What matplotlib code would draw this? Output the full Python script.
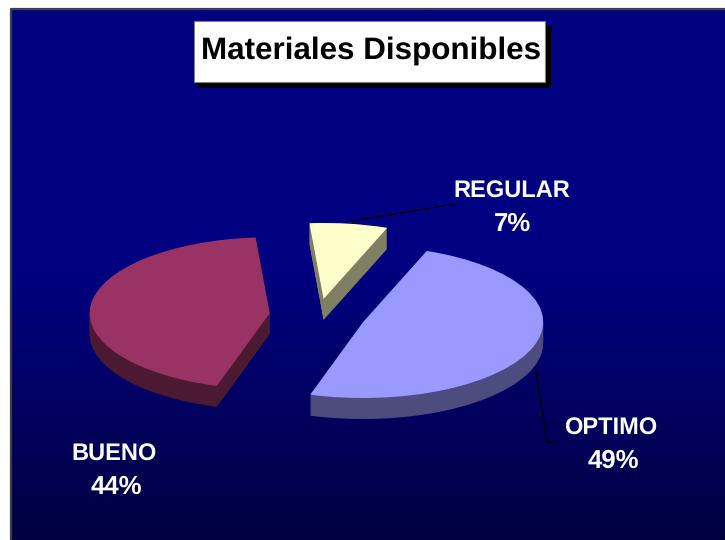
import numpy as np
import matplotlib
matplotlib.use("Agg")
import matplotlib.pyplot as plt
from matplotlib.patches import Rectangle
from matplotlib.colors import LinearSegmentedColormap

title = "Materiales Disponibles"
categories = ["REGULAR", "OPTIMO", "BUENO"]
values = [7, 49, 44]
top_colors = ["#FFFFCC", "#9999FF", "#993366"]
side_colors = ["#7F7F66", "#4C4C7F", "#4C1933"]
explode = [0.22, 0.265, 0.27]
name_pos = [(512, 191.5), (611, 428.5), (114, 455)]
value_pos = [(513, 224), (613, 461), (116, 487)]

W, H = 725, 540
# pie centre and radii in pixels, the tilt comes from the axis scaling
cx, cy, rx, ry = 318, 315.5, 180, 76
depth = 21

plt.rcParams["font.family"] = ["Liberation Sans", "DejaVu Sans"]
plt.rcParams["text.hinting"] = "no_hinting"
fig = plt.figure(figsize=(W / 100, H / 100), dpi=100, facecolor="white")

# background
ax_bg = fig.add_axes([0, 0, 1, 1], zorder=0)
ax_bg.axis("off")
cmap = LinearSegmentedColormap.from_list("bg", ["#000080", "#000080", "#000040"])
grad = np.linspace(0, 1, 256).reshape(-1, 1)
ax_bg.imshow(grad, cmap=cmap, extent=(11, W, H, 9), aspect="auto", zorder=1)
ax_bg.set_xlim(0, W)
ax_bg.set_ylim(H, 0)
ax_bg.plot([11, 11, W], [H, 9, 9], color="#404040", lw=1.6, zorder=2)

# pie, stacked from the bottom up to get the side walls
ax = fig.add_axes([0, 0, 1, 1], zorder=1)
ax.patch.set_alpha(0)
for d in range(depth, 0, -1):
    ax.pie(values, colors=side_colors, explode=explode, startangle=94.5,
           counterclock=False, center=(0, -d / ry),
           wedgeprops={"linewidth": 0.6, "edgecolor": "none"})
ax.pie(values, colors=top_colors, explode=explode, startangle=94.5,
       counterclock=False, center=(0, 0), wedgeprops={"linewidth": 0})
ax.set_aspect("auto")
ax.set_xlim(-cx / rx, (W - cx) / rx)
ax.set_ylim((cy - H) / ry, cy / ry)
ax.axis("off")

# title and labels
ax_top = fig.add_axes([0, 0, 1, 1], zorder=2)
ax_top.patch.set_alpha(0)
ax_top.set_xlim(0, W)
ax_top.set_ylim(H, 0)
ax_top.axis("off")
ax_top.add_patch(Rectangle((198, 26), 353, 62, facecolor="black", edgecolor="none"))
ax_top.add_patch(Rectangle((194.5, 20.5), 351, 61, facecolor="white",
                           edgecolor="#808080", lw=0.8))
ax_top.text(371.5, 51, title, fontsize=22.6, fontweight="bold", color="black",
            ha="center", va="center")

ax_top.plot([346, 448, 456], [222, 205, 205], color="black", lw=0.9)
ax_top.plot([535, 547, 558], [367, 442, 442], color="black", lw=0.9)

for name, val, np_, vp in zip(categories, values, name_pos, value_pos):
    ax_top.text(np_[0], np_[1], name, fontsize=17, fontweight="bold",
                color="white", ha="center", va="center")
    ax_top.text(vp[0], vp[1], f"{val}%", fontsize=18.5, fontweight="bold",
                color="white", ha="center", va="center")

fig.savefig("out.png", dpi=100)
